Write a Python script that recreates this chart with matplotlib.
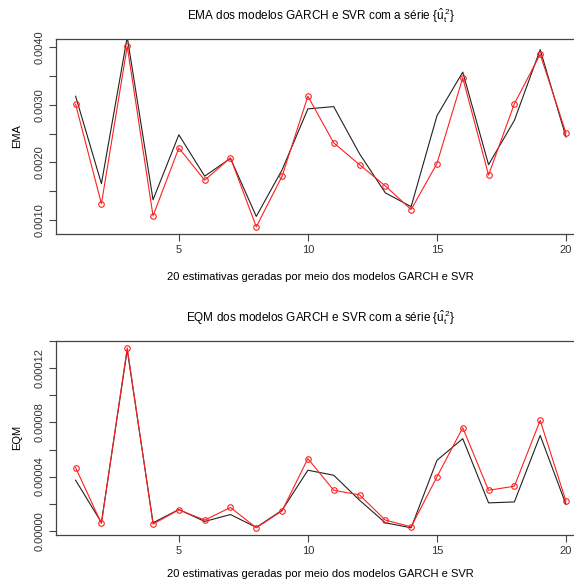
import numpy as np
import matplotlib
matplotlib.use("Agg")
import matplotlib.pyplot as plt
from matplotlib.ticker import MultipleLocator

plt.rcParams['font.family'] = ['Liberation Sans', 'DejaVu Sans']
plt.rcParams['mathtext.fontset'] = 'custom'
plt.rcParams['mathtext.rm'] = 'Liberation Sans'
plt.rcParams['mathtext.it'] = 'Liberation Sans'

### data ######################################################################
idx = np.arange(1, 21)

ema_svr = [0.00301, 0.00128, 0.00402, 0.00107, 0.00225, 0.00169, 0.00208, 0.00088,
           0.00176, 0.00315, 0.00234, 0.00196, 0.00159, 0.00118, 0.00198, 0.00347,
           0.00178, 0.00302, 0.00388, 0.00251]
ema_garch = [0.00315, 0.00163, 0.00418, 0.00135, 0.00248, 0.00176, 0.00207, 0.00106,
             0.00187, 0.00293, 0.00297, 0.00215, 0.00147, 0.00123, 0.00281, 0.00357,
             0.00196, 0.00273, 0.00396, 0.00244]

eqm_svr = [4.66e-5, 0.54e-5, 13.5e-5, 0.49e-5, 1.55e-5, 0.79e-5, 1.72e-5, 0.22e-5,
           1.47e-5, 5.33e-5, 2.99e-5, 2.65e-5, 0.79e-5, 0.29e-5, 3.98e-5, 7.61e-5,
           2.99e-5, 3.29e-5, 8.15e-5, 2.18e-5]
eqm_garch = [3.73e-5, 0.61e-5, 13.35e-5, 0.59e-5, 1.57e-5, 0.69e-5, 1.20e-5, 0.25e-5,
             1.52e-5, 4.47e-5, 4.10e-5, 2.26e-5, 0.59e-5, 0.22e-5, 5.20e-5, 6.80e-5,
             2.06e-5, 2.13e-5, 7.04e-5, 1.94e-5]

xlabel = "20 estimativas geradas por meio dos modelos GARCH e SVR"
titles = [r"EMA dos modelos GARCH e SVR com a série $\{\mathrm{\hat{u}}_{\mathrm{t}}^{\,2}\}$",
          r"EQM dos modelos GARCH e SVR com a série $\{\mathrm{\hat{u}}_{\mathrm{t}}^{\,2}\}$"]

### plot ######################################################################
fig = plt.figure(figsize=(5.74, 5.80), dpi=100)
W, H = 574.0, 580.0
axA = fig.add_axes([56 / W, (580 - 234) / H, (585.6 - 56) / W, 195 / H])
axB = fig.add_axes([56 / W, (580 - 535) / H, (585.6 - 56) / W, 194.3 / H])

def r_style(ax, svr, garch, title, ylab, step, labels, xpad):
    ax.plot(idx, garch, color='#222222', lw=0.8)
    ax.plot(idx, svr, color='#ff2020', lw=0.8, marker='o', ms=4, mfc='none',
            mew=0.8)
    lo, hi = min(svr), max(svr)
    ext = 0.04 * (hi - lo)
    ax.set_ylim(lo - ext, hi + ext)
    ax.set_xlim(1 - 0.04 * 19, 20 + 0.04 * 19)
    ax.set_xticks([5, 10, 15, 20])
    ax.yaxis.set_major_locator(MultipleLocator(step))
    ticks = [t for t in ax.get_yticks() if lo - ext <= t <= hi + ext]
    ax.set_yticks(ticks)
    ax.set_yticklabels([labels.get(round(t / step), '') for t in ticks],
                       rotation=90, va='center')
    for s in ax.spines.values():
        s.set_color('#444444')
        s.set_linewidth(0.9)
    ax.tick_params(direction='out', length=5, width=0.8, color='#444444',
                   labelsize=8, labelcolor='#333333', pad=3)
    ax.set_title(title, fontsize=8.5, pad=14)
    ax.set_xlabel(xlabel, fontsize=8, labelpad=xpad)
    ax.set_ylabel(ylab, fontsize=8, labelpad=9)

r_style(axA, ema_svr, ema_garch, titles[0], "EMA", 0.0005,
        {2: "0.0010", 4: "0.0020", 6: "0.0030", 8: "0.0040"}, 12)
r_style(axB, eqm_svr, eqm_garch, titles[1], "EQM", 0.00002,
        {0: "0.00000", 2: "0.00004", 4: "0.00008", 6: "0.00012"}, 9)

fig.savefig("out.png", dpi=100)
